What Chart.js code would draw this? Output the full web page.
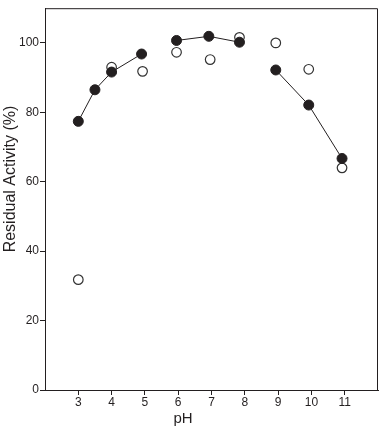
<!DOCTYPE html>
<html>
<head>
<meta charset="utf-8">
<script src="https://cdn.jsdelivr.net/npm/chart.js@4/dist/chart.umd.min.js"></script>
<style>
  html, body { margin: 0; padding: 0; background: #fff; }
  #wrap { width: 384px; height: 432px; position: relative; }
</style>
</head>
<body>
<div id="wrap"><canvas id="phChart"></canvas></div>
<script>
// residual activity
var phFilled = [3, 3.5, 4, 4.9, 5.95, 6.92, 7.84, 8.93, 9.92, 10.92];
var activityFilled = [77.4, 86.5, 91.6, 96.8, 100.7, 101.9, 100.2, 92.2, 82.1, 66.7];
var breakAfter = [3, 6]; // no line between these points and the next

var phOpen = [3, 4, 4.93, 5.95, 6.96, 7.84, 8.93, 9.92, 10.92];
var activityOpen = [31.8, 93.0, 91.8, 97.3, 95.2, 101.6, 100, 92.4, 64];

var xTicks = [3, 4, 5, 6, 7, 8, 9, 10, 11];
var yTicks = [0, 20, 40, 60, 80, 100];

var xTitle = "pH";
var yTitle = "Residual Activity (%)";

var ink = "#231f20";
var font = "'Liberation Sans', Arial, Helvetica, sans-serif";

function pts(xs, ys) {
  return xs.map(function(x, i) { return { x: x, y: ys[i] }; });
}

// box around the plot + the two axis titles
var framePlugin = {
  id: "frame",
  afterDraw: function(chart) {
    var c = chart.ctx, a = chart.chartArea;
    c.save();
    c.strokeStyle = ink;
    c.lineWidth = 1;
    c.beginPath();
    c.moveTo(a.left, a.top + 0.5);
    c.lineTo(a.right - 0.5, a.top + 0.5);
    c.lineTo(a.right - 0.5, a.bottom);
    c.stroke();

    c.fillStyle = ink;
    c.font = "15px " + font;
    c.textAlign = "center";
    c.textBaseline = "alphabetic";
    c.fillText(xTitle, 183, 423);

    c.translate(11, 179);
    c.rotate(-Math.PI / 2);
    c.font = "16px " + font;
    c.textBaseline = "middle";
    c.fillText(yTitle, 0, 0);
    c.restore();
  }
};

var ctx = document.getElementById("phChart").getContext("2d");
var myChart = new Chart(ctx, {
  type: "scatter",
  data: {
    datasets: [
      {
        data: pts(phFilled, activityFilled),
        showLine: true,
        borderColor: ink,
        borderWidth: 1,
        backgroundColor: ink,
        pointRadius: 5,
        pointBorderWidth: 1,
        pointBorderColor: ink,
        pointBackgroundColor: ink,
        segment: {
          borderColor: function(s) {
            return breakAfter.indexOf(s.p0DataIndex) >= 0 ? "rgba(0,0,0,0)" : ink;
          }
        }
      },
      {
        data: pts(phOpen, activityOpen),
        showLine: false,
        pointRadius: 4.8,
        pointBorderWidth: 1.2,
        pointBorderColor: "#333",
        pointBackgroundColor: "#fff"
      }
    ]
  },
  options: {
    responsive: true,
    maintainAspectRatio: false,
    animation: false,
    layout: { padding: { left: 0, right: 2, top: 6, bottom: 0 } },
    plugins: {
      legend: { display: false },
      tooltip: { enabled: false }
    },
    scales: {
      x: {
        type: "linear",
        min: 2,
        max: 12,
        afterBuildTicks: function(scale) {
          scale.ticks = xTicks.map(function(v) { return { value: v }; });
        },
        afterFit: function(scale) { scale.height = 42; },
        border: { display: true, color: ink, width: 1 },
        grid: { display: true, drawOnChartArea: false, drawTicks: true, tickLength: 5, color: ink },
        ticks: { color: ink, padding: 0, maxRotation: 0, font: { family: font, size: 12 } }
      },
      y: {
        type: "linear",
        min: 0,
        max: 110,
        afterBuildTicks: function(scale) {
          scale.ticks = yTicks.map(function(v) { return { value: v }; });
        },
        afterFit: function(scale) { scale.width = 45; },
        border: { display: true, color: ink, width: 1 },
        grid: { display: true, drawOnChartArea: false, drawTicks: true, tickLength: 5, color: ink },
        ticks: { color: ink, padding: 1, font: { family: font, size: 12 } }
      }
    }
  },
  plugins: [framePlugin]
});
</script>
</body>
</html>
